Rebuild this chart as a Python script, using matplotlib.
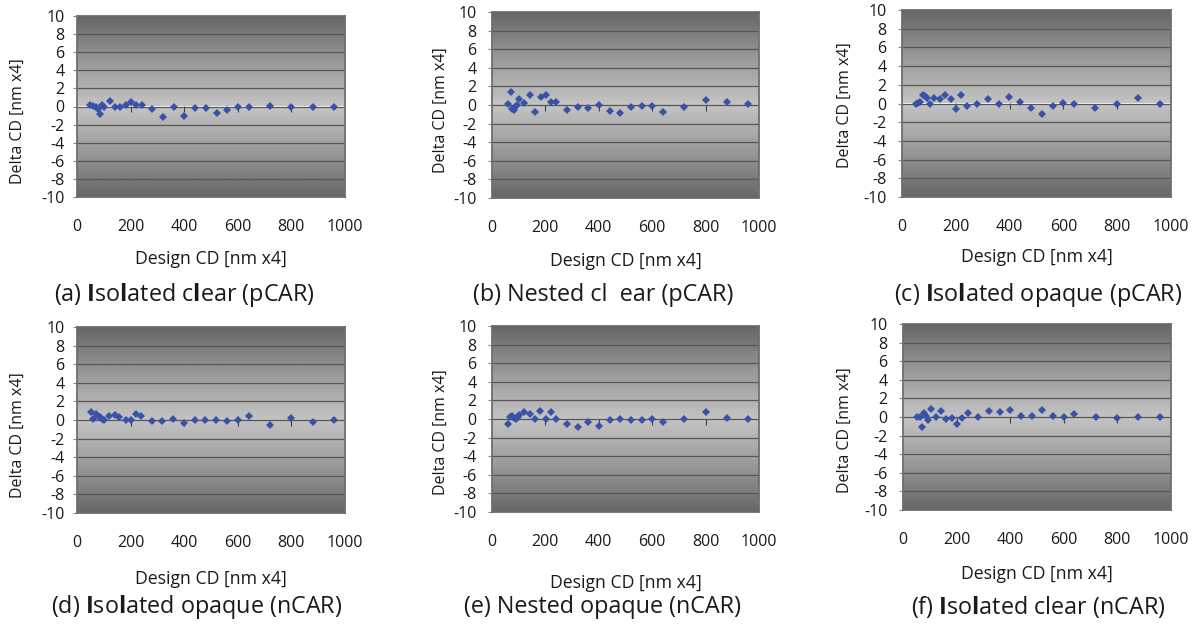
import numpy as np
import matplotlib
matplotlib.use("Agg")
import matplotlib.pyplot as plt
from matplotlib.colors import LinearSegmentedColormap

plt.rcParams["font.family"] = ["Open Sans", "DejaVu Sans"]
plt.rcParams["mathtext.fontset"] = "custom"
plt.rcParams["mathtext.rm"] = "Open Sans"
plt.rcParams["mathtext.bf"] = "Open Sans:bold"
plt.rcParams["axes.unicode_minus"] = False

# Design CD [nm x4] and measured Delta CD [nm x4] for each pattern type
cd_a = [50, 60, 70, 77, 85, 92, 102, 122, 142, 162, 182, 202, 222, 242, 281, 321,
        361, 401, 441, 481, 521, 560, 600, 640, 720, 800, 879, 959]
delta_a = [0.19, 0.04, 0.0, -0.26, -0.81, 0.19, -0.07, 0.59, -0.04, -0.11, 0.19, 0.48,
           0.15, 0.15, -0.26, -1.15, -0.04, -1.04, -0.15, -0.15, -0.7, -0.37, -0.04,
           -0.04, 0.04, -0.04, -0.04, -0.04]

cd_b = [61, 70, 76, 82, 86, 92, 102, 120, 142, 161, 182, 201, 221, 241, 281, 321,
        361, 401, 441, 481, 521, 561, 600, 640, 720, 800, 880, 960]
delta_b = [0.14, 1.4, -0.4, -0.5, -0.2, 0.0, 0.68, 0.25, 1.1, -0.8, 0.9, 1.1, 0.36,
           0.36, -0.58, -0.25, -0.36, -0.04, -0.68, -0.9, -0.25, -0.14, -0.14, -0.8,
           -0.25, 0.58, 0.36, 0.07]

cd_c = [52, 61, 68, 77, 84, 93, 103, 120, 142, 161, 182, 201, 221, 241, 280, 320,
        359, 399, 439, 478, 520, 560, 600, 639, 719, 799, 877, 958]
delta_c = [-0.1, 0.04, 0.2, 0.93, 0.82, 0.64, -0.1, 0.6, 0.5, 0.93, 0.5, -0.6, 0.93,
           -0.28, -0.07, 0.43, -0.04, 0.71, 0.21, -0.43, -1.07, -0.28, 0.1, -0.04,
           -0.53, -0.1, 0.6, -0.07]

cd_d = [51, 61, 70, 77, 84, 93, 102, 120, 142, 158, 181, 200, 221, 240, 280, 319,
        359, 399, 439, 478, 520, 561, 601, 641, 720, 800, 880, 959]
delta_d = [0.82, 0.07, 0.6, 0.43, 0.29, 0.14, -0.04, 0.39, 0.57, 0.29, -0.04, -0.04,
           0.6, 0.43, -0.14, -0.14, 0.07, -0.36, -0.04, -0.04, -0.04, -0.14, -0.04,
           0.46, -0.57, 0.25, -0.25, -0.04]

cd_e = [61, 67, 74, 82, 89, 96, 102, 120, 141, 160, 181, 201, 221, 241, 281, 321,
        361, 401, 441, 481, 521, 561, 600, 640, 720, 800, 880, 960]
delta_e = [-0.57, 0.21, 0.29, 0.11, -0.04, 0.25, 0.46, 0.71, 0.5, -0.04, 0.86, 0.0,
           0.71, 0.0, -0.57, -0.82, -0.32, -0.75, -0.07, 0.0, -0.07, -0.07, 0.0,
           -0.32, 0.0, 0.75, 0.11, 0.0]

cd_f = [52, 62, 71, 77, 85, 92, 103, 122, 143, 162, 183, 201, 221, 241, 280, 320,
        361, 400, 440, 480, 520, 560, 600, 639, 719, 799, 878, 958]
delta_f = [0.0, 0.0, -1.07, 0.39, 0.07, -0.29, 0.86, 0.0, 0.61, -0.18, -0.11, -0.75,
           -0.11, 0.39, 0.0, 0.61, 0.5, 0.71, 0.07, 0.07, 0.71, 0.07, 0.0, 0.32, 0.0,
           -0.11, 0.0, 0.0]

captions = [
    r"(a) $\mathbf{I}$so$\mathbf{l}$ated c$\mathbf{l}$ear (pCAR)",
    "(b) Nested cl  ear (pCAR)",
    r"(c) $\mathbf{I}$so$\mathbf{l}$ated opaque (pCAR)",
    r"(d) $\mathbf{I}$so$\mathbf{l}$ated opaque (nCAR)",
    "(e) Nested opaque (nCAR)",
    r"(f) $\mathbf{I}$so$\mathbf{l}$ated clear (nCAR)",
]
x_ticks = [0, 200, 400, 600, 800, 1000]
y_ticks = [-10, -8, -6, -4, -2, 0, 2, 4, 6, 8, 10]
xlabel = "Design CD [nm x4]"
ylabel = "Delta CD [nm x4]"

series = [(cd_a, delta_a), (cd_b, delta_b), (cd_c, delta_c),
          (cd_d, delta_d), (cd_e, delta_e), (cd_f, delta_f)]

W, H = 1199, 631
fig = plt.figure(figsize=(W / 100, H / 100), dpi=100)

# pixel layout: axes box (left, top, right, bottom), ylabel centre, xlabel centre y,
# caption centre, y tick pad
layout = [
    dict(box=(77, 16, 345, 197), ylab=(18, 121), xlab=259, cap=(184, 295), ypad=6),
    dict(box=(492, 12, 759, 198), ylab=(441, 110), xlab=261, cap=(603, 295), ypad=8),
    dict(box=(902, 10, 1171, 197), ylab=(845, 105), xlab=257, cap=(1038, 295), ypad=8),
    dict(box=(77, 327, 345, 513), ylab=(18, 435), xlab=579, cap=(197, 607), ypad=6),
    dict(box=(492, 326, 759, 512), ylab=(441, 432), xlab=583, cap=(603, 607), ypad=8),
    dict(box=(903, 324, 1171, 510), ylab=(845, 430), xlab=574, cap=(1038, 607), ypad=8),
]

bg_cmap = LinearSegmentedColormap.from_list(
    "bg", ["#666666", "#999999", "#c4c4c4", "#999999", "#666666"])
grad = np.linspace(0, 1, 256).reshape(-1, 1)

marker_color = "#3752a6"
grid_color = "#565656"
frame_color = "#6e6e6e"
text_color = "#1a1a1a"

for (x, y), lay, cap in zip(series, layout, captions):
    l, t, r, b = lay["box"]
    ax = fig.add_axes([l / W, 1 - b / H, (r - l) / W, (b - t) / H])
    ax.set_facecolor("none")
    ax.imshow(grad, extent=[0, 1, 0, 1], transform=ax.transAxes, aspect="auto",
              cmap=bg_cmap, zorder=0, interpolation="bicubic")
    ax.set_xlim(0, 1000)
    ax.set_ylim(-10, 10)
    ax.set_xticks(x_ticks)
    ax.set_yticks(y_ticks)
    for yy in y_ticks:
        ax.axhline(yy, color=grid_color, lw=0.9, zorder=1)
    ax.tick_params(axis="x", length=0, pad=16, labelsize=11.5, colors=text_color)
    ax.tick_params(axis="y", length=3, width=0.8, color="#888888",
                   pad=lay["ypad"], labelsize=11.5, labelcolor=text_color)
    for sp in ax.spines.values():
        sp.set_color(frame_color)
        sp.set_linewidth(1.3)

    # category axis crossing at zero, with its tick marks pointing up
    zax = ax.secondary_xaxis(0.5)
    zax.set_xticks(x_ticks[1:-1])
    zax.tick_params(axis="x", direction="in", length=4.5, width=0.8,
                    color="#404040", labelbottom=False, labeltop=False)
    zax.spines["bottom"].set_visible(False)
    zax.spines["top"].set_visible(False)

    ax.plot(x, y, linestyle="none", marker="D", markersize=4.3,
            color=marker_color, markeredgewidth=0, zorder=3)

    ax.set_xlabel(xlabel, fontsize=12.7, color=text_color)
    ax.xaxis.set_label_coords(0.5, (b - lay["xlab"]) / (b - t))
    ax.xaxis.label.set_va("center")
    ax.set_ylabel(ylabel, fontsize=11.5, color=text_color)
    ylx, yly = lay["ylab"]
    ax.yaxis.set_label_coords((ylx - l) / (r - l), (b - yly) / (b - t))
    ax.yaxis.label.set_va("center")

    cx, cy = lay["cap"]
    fig.text(cx / W, 1 - cy / H, cap, ha="center", va="center",
             fontsize=16.8, color=text_color)

fig.savefig("out.png", dpi=100, facecolor="white")
